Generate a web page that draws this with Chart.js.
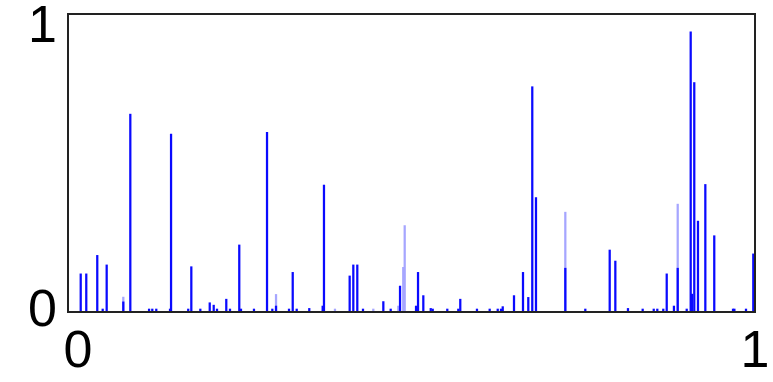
<!DOCTYPE html>
<html>
<head>
<meta charset="utf-8">
<script src="https://cdn.jsdelivr.net/npm/chart.js@4/dist/chart.umd.min.js"></script>
<style>
html,body{margin:0;padding:0;background:#fff;}
#wrap{width:773px;height:382px;position:relative;}
</style>
</head>
<body>
<div id="wrap"><canvas id="c"></canvas></div>
<script>
// Dark (solid blue) spikes: positions and heights
const darkX = [0.0185,0.0266,0.0426,0.0505,0.0563,0.0805,0.0907,0.118,0.1227,0.1285,0.1485,0.150,0.175,0.1795,0.1926,0.2063,0.2121,0.2169,0.2304,0.2358,0.2493,0.2518,0.2707,0.2897,0.2974,0.3028,0.3217,0.3271,0.3329,0.3512,0.3707,0.3726,0.410,0.4153,0.4211,0.4294,0.459,0.4697,0.4833,0.5066,0.5095,0.5172,0.528,0.5309,0.5521,0.5681,0.571,0.5953,0.6138,0.6255,0.6303,0.6328,0.6492,0.6623,0.670,0.6758,0.6812,0.7239,0.753,0.7885,0.7967,0.8151,0.8365,0.8526,0.8578,0.8665,0.8715,0.882,0.8875,0.9006,0.9064,0.9083,0.9116,0.917,0.9277,0.9407,0.968,0.970,0.9869,0.9975];
const darkY = [0.128,0.128,0.19,0.01,0.158,0.034,0.664,0.01,0.01,0.01,0.01,0.597,0.01,0.152,0.01,0.031,0.023,0.01,0.043,0.01,0.225,0.01,0.01,0.603,0.01,0.02,0.01,0.133,0.01,0.012,0.02,0.426,0.121,0.158,0.158,0.01,0.035,0.01,0.087,0.02,0.133,0.055,0.012,0.01,0.01,0.01,0.043,0.01,0.01,0.01,0.01,0.018,0.055,0.133,0.049,0.756,0.384,0.147,0.01,0.208,0.171,0.012,0.01,0.01,0.01,0.01,0.128,0.02,0.147,0.01,0.94,0.06,0.77,0.305,0.428,0.256,0.01,0.01,0.01,0.195];
// Light (pale blue) spikes
const lightX = [0.0805,0.3028,0.3886,0.4444,0.4808,0.488,0.4901,0.7239,0.8875];
const lightY = [0.05,0.059,0.01,0.01,0.02,0.15,0.29,0.335,0.362];
// Axis tick labels
const xTickLabels = ['0','1'];
const yTickLabels = ['0','1'];

const toPts = (xs, ys) => xs.map((x, i) => ({x: x, y: ys[i]}));

const frame = {
  id: 'frame',
  beforeDraw(chart) {
    // nudge the first x label and last y label inward, as in the reference
    const xi = chart.scales.x.getLabelItems();
    if (xi.length && !xi[0]._nudged) { xi[0].options.translation[0] += 10; xi[0]._nudged = true; }
    const yi = chart.scales.y.getLabelItems();
    const top = yi[yi.length - 1];
    if (top && !top._nudged) { top.options.translation[1] += 14; top._nudged = true; }
  },
  afterDraw(chart) {
    const a = chart.chartArea, ctx = chart.ctx;
    ctx.save();
    ctx.strokeStyle = '#222222';
    ctx.lineWidth = 2;
    ctx.strokeRect(a.left, a.top, a.right - a.left, a.bottom - a.top);
    ctx.restore();
  }
};

new Chart(document.getElementById('c'), {
  type: 'bar',
  data: {
    datasets: [
      {data: toPts(darkX, darkY), backgroundColor: '#0a0aff', barThickness: 1.6, grouped: false},
      {data: toPts(lightX, lightY), backgroundColor: '#a6a6ff', barThickness: 1.6, grouped: false}
    ]
  },
  options: {
    responsive: true,
    maintainAspectRatio: false,
    animation: false,
    layout: {padding: {left: 0, right: 18, top: 14, bottom: 0}},
    plugins: {legend: {display: false}, tooltip: {enabled: false}},
    scales: {
      x: {
        type: 'linear', min: 0, max: 1, offset: false,
        grid: {display: false, drawTicks: false},
        border: {display: false},
        afterBuildTicks(s) { s.ticks = xTickLabels.map(v => ({value: Number(v)})); },
        ticks: {
          padding: 15, maxRotation: 0, autoSkip: false,
          color: '#000',
          font: {family: 'Liberation Sans, Arial, sans-serif', size: 52, lineHeight: 1.0},
          callback: (v) => String(v)
        },
        afterFit(s) { s.height = 70; s.paddingLeft = 0; s.paddingRight = 0; }
      },
      y: {
        type: 'linear', min: 0, max: 1,
        grid: {display: false, drawTicks: false},
        border: {display: false},
        afterBuildTicks(s) { s.ticks = yTickLabels.map(v => ({value: Number(v)})); },
        ticks: {
          padding: 11, color: '#000',
          font: {family: 'Liberation Sans, Arial, sans-serif', size: 52, lineHeight: 1.0},
          callback: (v) => String(v)
        },
        afterFit(s) { s.width = 68; s.paddingTop = 0; s.paddingBottom = 0; }
      }
    }
  },
  plugins: [frame]
});
</script>
</body>
</html>
